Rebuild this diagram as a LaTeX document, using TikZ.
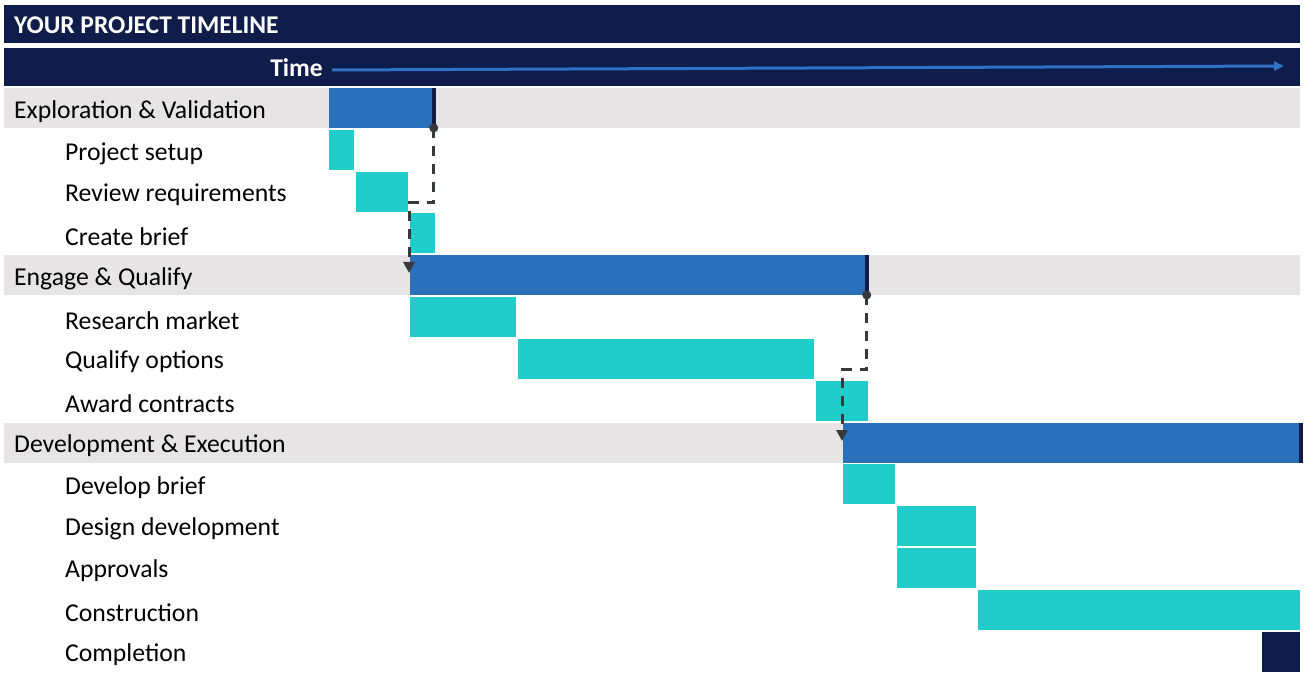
\documentclass[tikz,border=0pt]{standalone}
\usepackage{fontspec}
\setmainfont{Carlito}
\usetikzlibrary{arrows.meta}
\definecolor{navy}{HTML}{101D4B}
\definecolor{barblue}{HTML}{2A70BA}
\definecolor{tealc}{HTML}{21CDCB}
\definecolor{bandc}{HTML}{E6E4E4}
\definecolor{depgray}{HTML}{38393D}
\definecolor{timeblue}{HTML}{2F72C4}
\tikzset{
  box/.style={rectangle,inner sep=0pt,outer sep=0pt,anchor=north west},
  bandbox/.style={box,fill=bandc,minimum width=1296pt,minimum height=40pt},
  hdrbox/.style={box,fill=navy,minimum width=1296pt,minimum height=38pt},
  phase/.style={box,fill=barblue,minimum height=40pt},
  task/.style={box,fill=tealc,minimum height=40pt},
  endcap/.style={box,fill=navy,minimum width=4.5pt,minimum height=40pt},
  lbl/.style={anchor=west,inner sep=0pt,yshift=-1.5pt,font=\fontsize{25.7}{29}\selectfont,text=black},
  hdrlbl/.style={anchor=west,inner sep=0pt,font=\bfseries\fontsize{25.5}{29}\selectfont,text=white},
  dep/.style={depgray,line width=3pt,dash pattern=on 10pt off 8pt},
  deptip/.style={-{Triangle[length=11pt,width=11pt]}},
  depdot/.style={circle,fill=depgray,inner sep=0pt,minimum size=9pt}
}
\begin{document}
\begin{tikzpicture}[x=1pt,y=-1pt]
\useasboundingbox (0,0) rectangle (1307,676);
% header bars
\node[hdrbox] (hdr) at (4,5) {};
\node[hdrlbl] (title) at (14,25) {YOUR PROJECT TIMELINE};
\node[hdrbox] (timebar) at (4,48) {};
\node[hdrlbl,anchor=east] (time) at (323,68) {Time};
\coordinate (tend) at (1284,66);
\draw[timeblue,line width=3pt,-{Triangle[length=10pt,width=9pt]}] ([xshift=9pt,yshift=-2pt]time.east) -- (tend);
% gray bands
\node[bandbox] (b1) at (4,88) {};
\node[bandbox] (b2) at (4,255) {};
\node[bandbox] (b3) at (4,423) {};
% labels
\node[lbl] (l1) at (14,110) {Exploration \& Validation};
\node[lbl] (l2) at (65,152) {Project setup};
\node[lbl] (l3) at (65,193) {Review requirements};
\node[lbl] (l4) at (65,235) {Create brief};
\node[lbl] (l5) at (14,277) {Engage \& Qualify};
\node[lbl] (l6) at (65,319) {Research market};
\node[lbl] (l7) at (65,360) {Qualify options};
\node[lbl] (l8) at (65,402) {Award contracts};
\node[lbl] (l9) at (14,444) {Development \& Execution};
\node[lbl] (l10) at (65,486) {Develop brief};
\node[lbl] (l11) at (65,527) {Design development};
\node[lbl] (l12) at (65,569) {Approvals};
\node[lbl] (l13) at (65,611) {Construction};
\node[lbl] (l14) at (65,653) {Completion};
% phase bars
\node[phase,minimum width=107pt] (ev) at (329,88) {};
\node[endcap,anchor=north east] (evcap) at (ev.north east) {};
\node[phase,minimum width=459pt] (eq) at (410,255) {};
\node[endcap,anchor=north east] (eqcap) at (eq.north east) {};
\node[phase,minimum width=460pt] (de) at (843,423) {};
\node[endcap,anchor=north east] (decap) at (de.north east) {};
% tasks
\node[task,minimum width=25pt] (t1) at (329,130) {};
\node[task,minimum width=52pt] (t2) at (356,172) {};
\node[task,minimum width=25pt] (t3) at (410,213) {};
\node[task,minimum width=106pt] (t4) at (410,297) {};
\node[task,minimum width=296pt] (t5) at (518,339) {};
\node[task,minimum width=52pt] (t6) at (816,381) {};
\node[task,minimum width=52pt] (t7) at (843,464) {};
\node[task,minimum width=79pt] (t8) at (897,506) {};
\node[task,minimum width=79pt] (t9) at (897,548) {};
\node[task,minimum width=322pt] (t10) at (978,590) {};
\node[box,fill=navy,minimum width=38pt,minimum height=40pt] (t11) at (1262,632) {};
% dependencies
\coordinate (k1) at (433,203);
\draw[dep,deptip] (evcap.south) -- (evcap.south |- k1) -| ([xshift=-1pt,yshift=2pt]eq.west);
\node[depdot] (d1) at (evcap.south) {};
\coordinate (k2) at (866,370);
\draw[dep,deptip] (eqcap.south) -- (eqcap.south |- k2) -| ([xshift=-1pt,yshift=2pt]de.west);
\node[depdot] (d2) at (eqcap.south) {};
\end{tikzpicture}
\end{document}
